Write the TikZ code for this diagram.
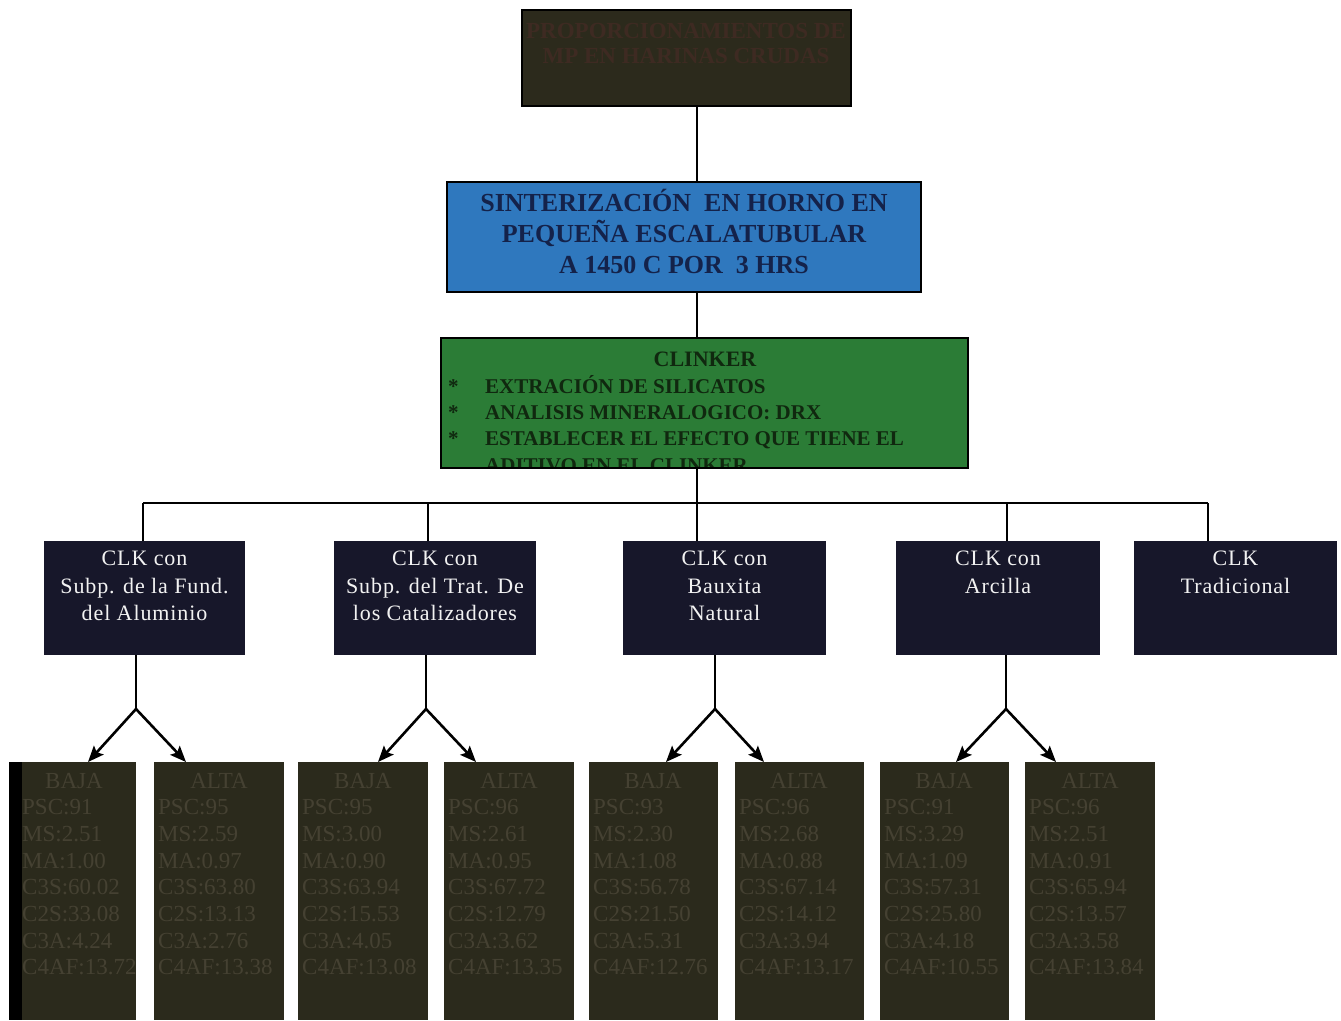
\documentclass[tikz,border=0pt]{standalone}
\usepackage{fontspec}
\setmainfont{Liberation Serif}
\newfontfamily\clkfont[LetterSpace=4]{Liberation Serif}
\usetikzlibrary{arrows.meta}
\definecolor{topfill}{HTML}{2C2A1C}
\definecolor{toptext}{HTML}{3E2A22}
\definecolor{bluefill}{HTML}{2F78BE}
\definecolor{bluetext}{HTML}{14224A}
\definecolor{greenfill}{HTML}{2B7C36}
\definecolor{greentext}{HTML}{10280F}
\definecolor{clkfill}{HTML}{17172A}
\definecolor{clktext}{HTML}{F2F2F2}
\definecolor{subfill}{HTML}{2B2A1C}
\definecolor{subtext}{HTML}{454132}
\newcommand\mysub[5]{%
  \node[subtitle] (#1-0) at (#2,788) {#4};
  \foreach \v [count=\k] in {#5} {\node[subtxt] (#1-\k) at (#3,{788+26.7*\k}) {\v};}%
}
\begin{document}
\begin{tikzpicture}[x=1pt,y=-1pt,
  box/.style={anchor=north west, inner sep=0, outer sep=0},
  topbox/.style={box, fill=topfill, draw=black, line width=1.2pt},
  bluebox/.style={box, fill=bluefill, draw=black, line width=1.8pt},
  greenbox/.style={box, fill=greenfill, draw=black, line width=1.8pt},
  clkbox/.style={box, fill=clkfill},
  subbox/.style={box, fill=subfill},
  toptxt/.style={anchor=base, inner sep=0, text=toptext, font=\fontsize{23}{25}\selectfont\bfseries},
  bluetxt/.style={anchor=base, inner sep=0, text=bluetext, font=\fontsize{26}{30}\selectfont\bfseries},
  greentxt/.style={anchor=base west, inner sep=0, text=greentext, font=\fontsize{21}{26}\selectfont\bfseries},
  clktxt/.style={anchor=base, inner sep=0, text=clktext, font=\fontsize{22}{27}\selectfont\clkfont},
  subtitle/.style={anchor=base, inner sep=0, text=subtext, font=\fontsize{23}{26}\selectfont},
  subtxt/.style={anchor=base west, inner sep=0, text=subtext, font=\fontsize{23}{26}\selectfont},
  conn/.style={line width=2pt, black},
  arr/.style={line width=2.6pt, black, -{Stealth[length=16pt,width=13pt,inset=3pt]}}
]
\useasboundingbox[fill=white] (0,0) rectangle (1341,1020);

% top box
\node[topbox, minimum width=329, minimum height=96] (top) at (522,10) {};
\node[toptxt] (top-1) at (686,38) {PROPORCIONAMIENTOS DE};
\node[toptxt] (top-2) at (686,63) {MP EN HARINAS CRUDAS};

% blue box
\node[bluebox, minimum width=474, minimum height=110] (blue) at (447,182) {};
\node[bluetxt] (blue-1) at (684,211) {SINTERIZACIÓN\ \ EN HORNO EN};
\node[bluetxt] (blue-2) at (684,242) {PEQUEÑA ESCALATUBULAR};
\node[bluetxt] (blue-3) at (684,273) {A 1450 C POR\ \ 3 HRS};

% green box
\node[greenbox, minimum width=527, minimum height=130] (green) at (441,338) {};
\begin{scope}
\clip (green.north west) rectangle (green.south east);
\node[greentxt, anchor=base, font=\fontsize{22}{26}\selectfont\bfseries] (green-0) at (705,366) {CLINKER};
\node[greentxt] (gb-1) at (448,393) {*};
\node[greentxt] (gb-2) at (448,419) {*};
\node[greentxt] (gb-3) at (448,445) {*};
\node[greentxt] (green-1) at (485,393) {EXTRACIÓN DE SILICATOS};
\node[greentxt] (green-2) at (485,419) {ANALISIS MINERALOGICO: DRX};
\node[greentxt] (green-3) at (485,445) {ESTABLECER EL EFECTO QUE TIENE EL};
\node[greentxt] (green-4) at (485,472) {ADITIVO EN EL CLINKER};
\end{scope}
\draw[line width=1.8pt] (green.north west) rectangle (green.south east);

% CLK boxes
\node[clkbox, minimum width=201, minimum height=114] (c1) at (44,541) {};
\node[clkbox, minimum width=202, minimum height=114] (c2) at (334,541) {};
\node[clkbox, minimum width=203, minimum height=114] (c3) at (623,541) {};
\node[clkbox, minimum width=204, minimum height=114] (c4) at (896,541) {};
\node[clkbox, minimum width=203, minimum height=114] (c5) at (1134,541) {};

\node[clktxt] (c1-1) at (144.5,565) {CLK con};
\node[clktxt] (c1-2) at (144.5,593) {Subp. de la Fund.};
\node[clktxt] (c1-3) at (144.5,620) {del Aluminio};
\node[clktxt] (c2-1) at (435,565) {CLK con};
\node[clktxt] (c2-2) at (435,593) {Subp. del Trat. De};
\node[clktxt] (c2-3) at (435,620) {los Catalizadores};
\node[clktxt] (c3-1) at (724.5,565) {CLK con};
\node[clktxt] (c3-2) at (724.5,593) {Bauxita};
\node[clktxt] (c3-3) at (724.5,620) {Natural};
\node[clktxt] (c4-1) at (998,565) {CLK con};
\node[clktxt] (c4-2) at (998,593) {Arcilla};
\node[clktxt] (c5-1) at (1235.5,565) {CLK};
\node[clktxt] (c5-2) at (1235.5,593) {Tradicional};

% sub boxes
\node[subbox, minimum width=127, minimum height=258] (s1) at (9,762) {};
\fill[black] (s1.north west) rectangle ([xshift=13pt]s1.south west);
\node[subbox, minimum width=130, minimum height=258] (s2) at (154,762) {};
\node[subbox, minimum width=130, minimum height=258] (s3) at (298,762) {};
\node[subbox, minimum width=130, minimum height=258] (s4) at (444,762) {};
\node[subbox, minimum width=129, minimum height=258] (s5) at (589,762) {};
\node[subbox, minimum width=129, minimum height=258] (s6) at (735,762) {};
\node[subbox, minimum width=129, minimum height=258] (s7) at (880,762) {};
\node[subbox, minimum width=130, minimum height=258] (s8) at (1025,762) {};

\mysub{s1t}{74}{22}{BAJA}{PSC:91,MS:2.51,MA:1.00,C3S:60.02,C2S:33.08,C3A:4.24,C4AF:13.72}
\mysub{s2t}{219}{158}{ALTA}{PSC:95,MS:2.59,MA:0.97,C3S:63.80,C2S:13.13,C3A:2.76,C4AF:13.38}
\mysub{s3t}{363}{302}{BAJA}{PSC:95,MS:3.00,MA:0.90,C3S:63.94,C2S:15.53,C3A:4.05,C4AF:13.08}
\mysub{s4t}{509}{448}{ALTA}{PSC:96,MS:2.61,MA:0.95,C3S:67.72,C2S:12.79,C3A:3.62,C4AF:13.35}
\mysub{s5t}{653}{593}{BAJA}{PSC:93,MS:2.30,MA:1.08,C3S:56.78,C2S:21.50,C3A:5.31,C4AF:12.76}
\mysub{s6t}{799}{739}{ALTA}{PSC:96,MS:2.68,MA:0.88,C3S:67.14,C2S:14.12,C3A:3.94,C4AF:13.17}
\mysub{s7t}{944}{884}{BAJA}{PSC:91,MS:3.29,MA:1.09,C3S:57.31,C2S:25.80,C3A:4.18,C4AF:10.55}
\mysub{s8t}{1090}{1029}{ALTA}{PSC:96,MS:2.51,MA:0.91,C3S:65.94,C2S:13.57,C3A:3.58,C4AF:13.84}

% connectors
\coordinate (v) at (697,0);
\draw[conn] (top.south -| v) -- (blue.north -| v);
\draw[conn] (blue.south -| v) -- (green.north -| v);
\coordinate (b1) at (143,503);
\coordinate (b2) at (428,503);
\coordinate (b3) at (697,503);
\coordinate (b4) at (1007,503);
\coordinate (b5) at (1208,503);
\draw[conn] (b1) -- (b5);
\draw[conn] (green.south -| b3) -- (c3.north -| b3);
\draw[conn] (b1) -- (c1.north -| b1);
\draw[conn] (b2) -- (c2.north -| b2);
\draw[conn] (b4) -- (c4.north -| b4);
\draw[conn] (b5) -- (c5.north -| b5);

\coordinate (f1) at (136,709);
\coordinate (f2) at (426,709);
\coordinate (f3) at (715,709);
\coordinate (f4) at (1006,709);
\coordinate (t1) at (88,0);  \coordinate (t2) at (186,0);
\coordinate (t3) at (378,0); \coordinate (t4) at (476,0);
\coordinate (t5) at (666,0); \coordinate (t6) at (764,0);
\coordinate (t7) at (956,0); \coordinate (t8) at (1056,0);
\draw[conn, line width=2.6pt] (c1.south -| f1) -- (f1);
\draw[conn, line width=2.6pt] (c2.south -| f2) -- (f2);
\draw[conn, line width=2.6pt] (c3.south -| f3) -- (f3);
\draw[conn, line width=2.6pt] (c4.south -| f4) -- (f4);
\draw[arr] (f1) -- (s1.north -| t1);
\draw[arr] (f1) -- (s2.north -| t2);
\draw[arr] (f2) -- (s3.north -| t3);
\draw[arr] (f2) -- (s4.north -| t4);
\draw[arr] (f3) -- (s5.north -| t5);
\draw[arr] (f3) -- (s6.north -| t6);
\draw[arr] (f4) -- (s7.north -| t7);
\draw[arr] (f4) -- (s8.north -| t8);
\end{tikzpicture}
\end{document}
